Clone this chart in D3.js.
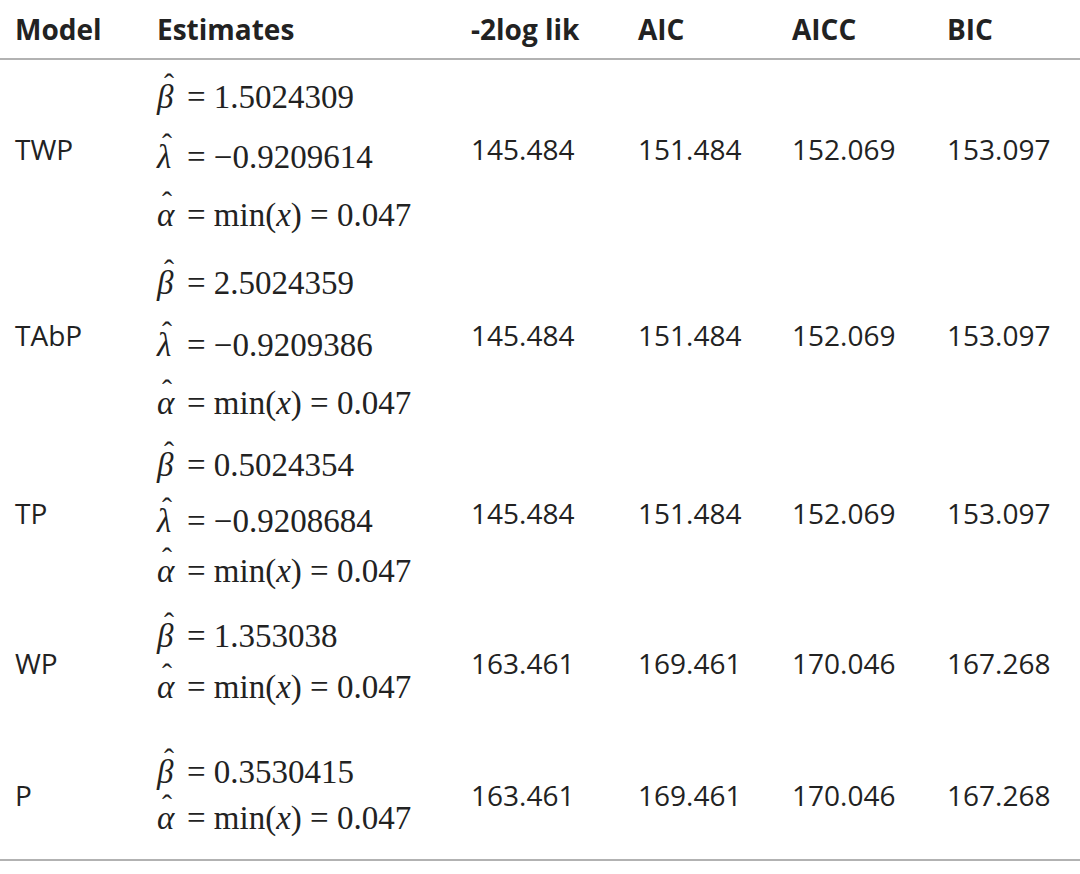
<!DOCTYPE html>
<html><head><meta charset="utf-8">
<script src="https://cdn.jsdelivr.net/npm/d3@7"></script>
<style>body{margin:0;background:#fff}</style></head>
<body><svg id="c" width="1080" height="874"></svg>
<script>
const headers = ["Model","Estimates","-2log lik","AIC","AICC","BIC"];
const models = ["TWP","TAbP","TP","WP","P"];
const estimates = [
  [["β","1.5024309"],["λ","−0.9209614"],["α","min(x) = 0.047"]],
  [["β","2.5024359"],["λ","−0.9209386"],["α","min(x) = 0.047"]],
  [["β","0.5024354"],["λ","−0.9208684"],["α","min(x) = 0.047"]],
  [["β","1.353038"],["α","min(x) = 0.047"]],
  [["β","0.3530415"],["α","min(x) = 0.047"]]
];
const neg2loglik = ["145.484","145.484","145.484","163.461","163.461"];
const aic = ["151.484","151.484","151.484","169.461","169.461"];
const aicc = ["152.069","152.069","152.069","170.046","170.046"];
const bic = ["153.097","153.097","153.097","167.268","167.268"];

const svg = d3.select("#c");
const colX = d3.scaleOrdinal().domain(headers).range([15,157,471,638,792,947]);
const rowY = d3.scaleOrdinal().domain(models).range([160,346,524,674,806]);
const estY = [[108,168,226],[294,356,414],[476,532,582],[647,698],[783,829]];
const sans = "'Open Sans','Noto Sans',sans-serif";
const serif = "'Liberation Serif','DejaVu Serif',serif";

svg.selectAll("text.h").data(headers).join("text").attr("class","h")
  .attr("x",d=>colX(d)).attr("y",40).attr("font-family",sans).attr("font-weight","bold")
  .attr("font-size",28).attr("fill","#222").text(d=>d);
svg.append("line").attr("x1",0).attr("x2",1080).attr("y1",59).attr("y2",59).attr("stroke","#666").attr("stroke-width",1.2);
svg.append("line").attr("x1",0).attr("x2",1080).attr("y1",860).attr("y2",860).attr("stroke","#666").attr("stroke-width",1.2);

const cols = [["-2log lik",neg2loglik],["AIC",aic],["AICC",aicc],["BIC",bic]];
models.forEach((m,i)=>{
  svg.append("text").attr("x",colX("Model")).attr("y",rowY(m)).attr("font-family",sans)
    .attr("font-size",28).attr("fill","#222").text(m);
  cols.forEach(([h,arr])=>{
    svg.append("text").attr("x",colX(h)).attr("y",rowY(m)).attr("font-family",sans)
      .attr("font-size",28).attr("fill","#222").text(arr[i]);
  });
  estimates[i].forEach((e,j)=>{
    const x0 = colX("Estimates"), y0 = estY[i][j];
    svg.append("text").attr("x",x0).attr("y",y0).attr("font-family",serif)
      .attr("font-size",33).attr("font-style","italic").attr("fill","#222").text(e[0]);
    svg.append("text").attr("x",x0+ (e[0]==="β"?7:5)).attr("y",y0-14).attr("font-family",serif)
      .attr("font-size",30).attr("fill","#222").text("ˆ");
    const t = svg.append("text").attr("x",x0+30).attr("y",y0)
      .attr("font-family",serif).attr("font-size",33).attr("fill","#222");
    if(e[1].startsWith("min")){
      t.append("tspan").text("= min(");
      t.append("tspan").attr("font-style","italic").text("x");
      t.append("tspan").text(") = 0.047");
    } else t.append("tspan").text("= "+e[1]);
  });
});
</script></body></html>
